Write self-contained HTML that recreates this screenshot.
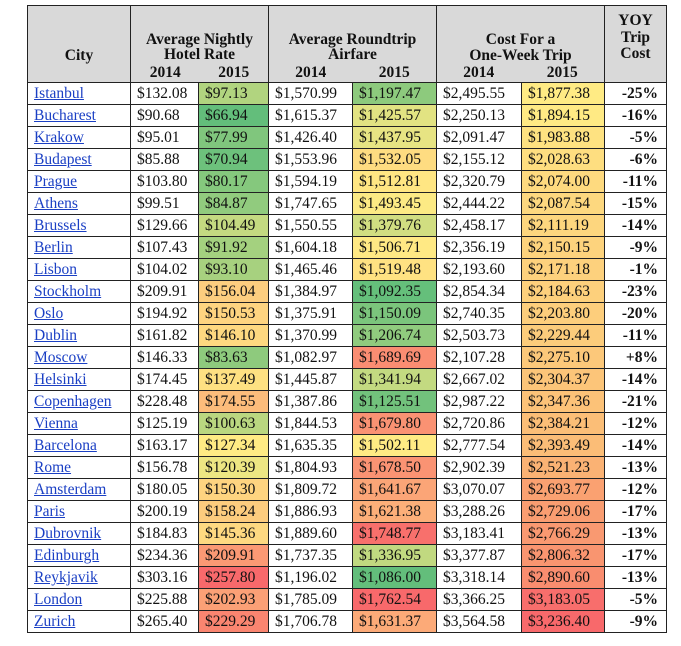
<!DOCTYPE html>
<html><head><meta charset="utf-8"><style>
body{margin:0;background:#fff;width:681px;height:646px;overflow:hidden;font-family:"Liberation Serif",serif;}
table{position:absolute;left:27px;top:5px;border-collapse:collapse;table-layout:fixed;}
td,th{border:1px solid #222;padding:0 0 0 6px;height:21px;font-size:15.5px;line-height:17px;white-space:nowrap;color:#111;}
thead th{background:#d9d9d9;height:76px;font-weight:bold;padding:0;text-align:center;line-height:15px;}
.hd{position:relative;height:76px;overflow:hidden}
.hd div{position:absolute;left:0;right:0;text-align:center}
.y{display:flex;justify-content:space-around;}
td.c a{color:#1a3fc4;text-decoration:underline;}
td.p{text-align:right;font-weight:bold;padding:0 8px 0 0}
</style></head><body>
<table>
<colgroup><col style="width:103px"><col style="width:68px"><col style="width:70px"><col style="width:84px"><col style="width:84px"><col style="width:85px"><col style="width:83px"><col style="width:62px"></colgroup>
<thead><tr>
<th><div class="hd"><div style="top:42px">City</div></div></th>
<th colspan="2"><div class="hd"><div style="top:26px">Average Nightly<br>Hotel Rate</div><div class="y" style="top:59px"><span>2014</span><span>2015</span></div></div></th>
<th colspan="2"><div class="hd"><div style="top:26px">Average Roundtrip<br>Airfare</div><div class="y" style="top:59px"><span>2014</span><span>2015</span></div></div></th>
<th colspan="2"><div class="hd"><div style="top:26px;line-height:16px">Cost For a<br>One-Week Trip</div><div class="y" style="top:59px"><span>2014</span><span>2015</span></div></div></th>
<th><div class="hd"><div style="top:7px;line-height:16.5px">YOY<br>Trip<br>Cost</div></div></th>
</tr></thead>
<tbody id="tb">
<tr><td class="c"><a>Istanbul</a></td><td>$132.08</td><td class="h">$97.13</td><td>$1,570.99</td><td class="a">$1,197.47</td><td>$2,495.55</td><td class="k">$1,877.38</td><td class="p">-25%</td></tr>
<tr><td class="c"><a>Bucharest</a></td><td>$90.68</td><td class="h">$66.94</td><td>$1,615.37</td><td class="a">$1,425.57</td><td>$2,250.13</td><td class="k">$1,894.15</td><td class="p">-16%</td></tr>
<tr><td class="c"><a>Krakow</a></td><td>$95.01</td><td class="h">$77.99</td><td>$1,426.40</td><td class="a">$1,437.95</td><td>$2,091.47</td><td class="k">$1,983.88</td><td class="p">-5%</td></tr>
<tr><td class="c"><a>Budapest</a></td><td>$85.88</td><td class="h">$70.94</td><td>$1,553.96</td><td class="a">$1,532.05</td><td>$2,155.12</td><td class="k">$2,028.63</td><td class="p">-6%</td></tr>
<tr><td class="c"><a>Prague</a></td><td>$103.80</td><td class="h">$80.17</td><td>$1,594.19</td><td class="a">$1,512.81</td><td>$2,320.79</td><td class="k">$2,074.00</td><td class="p">-11%</td></tr>
<tr><td class="c"><a>Athens</a></td><td>$99.51</td><td class="h">$84.87</td><td>$1,747.65</td><td class="a">$1,493.45</td><td>$2,444.22</td><td class="k">$2,087.54</td><td class="p">-15%</td></tr>
<tr><td class="c"><a>Brussels</a></td><td>$129.66</td><td class="h">$104.49</td><td>$1,550.55</td><td class="a">$1,379.76</td><td>$2,458.17</td><td class="k">$2,111.19</td><td class="p">-14%</td></tr>
<tr><td class="c"><a>Berlin</a></td><td>$107.43</td><td class="h">$91.92</td><td>$1,604.18</td><td class="a">$1,506.71</td><td>$2,356.19</td><td class="k">$2,150.15</td><td class="p">-9%</td></tr>
<tr><td class="c"><a>Lisbon</a></td><td>$104.02</td><td class="h">$93.10</td><td>$1,465.46</td><td class="a">$1,519.48</td><td>$2,193.60</td><td class="k">$2,171.18</td><td class="p">-1%</td></tr>
<tr><td class="c"><a>Stockholm</a></td><td>$209.91</td><td class="h">$156.04</td><td>$1,384.97</td><td class="a">$1,092.35</td><td>$2,854.34</td><td class="k">$2,184.63</td><td class="p">-23%</td></tr>
<tr><td class="c"><a>Oslo</a></td><td>$194.92</td><td class="h">$150.53</td><td>$1,375.91</td><td class="a">$1,150.09</td><td>$2,740.35</td><td class="k">$2,203.80</td><td class="p">-20%</td></tr>
<tr><td class="c"><a>Dublin</a></td><td>$161.82</td><td class="h">$146.10</td><td>$1,370.99</td><td class="a">$1,206.74</td><td>$2,503.73</td><td class="k">$2,229.44</td><td class="p">-11%</td></tr>
<tr><td class="c"><a>Moscow</a></td><td>$146.33</td><td class="h">$83.63</td><td>$1,082.97</td><td class="a">$1,689.69</td><td>$2,107.28</td><td class="k">$2,275.10</td><td class="p">+8%</td></tr>
<tr><td class="c"><a>Helsinki</a></td><td>$174.45</td><td class="h">$137.49</td><td>$1,445.87</td><td class="a">$1,341.94</td><td>$2,667.02</td><td class="k">$2,304.37</td><td class="p">-14%</td></tr>
<tr><td class="c"><a>Copenhagen</a></td><td>$228.48</td><td class="h">$174.55</td><td>$1,387.86</td><td class="a">$1,125.51</td><td>$2,987.22</td><td class="k">$2,347.36</td><td class="p">-21%</td></tr>
<tr><td class="c"><a>Vienna</a></td><td>$125.19</td><td class="h">$100.63</td><td>$1,844.53</td><td class="a">$1,679.80</td><td>$2,720.86</td><td class="k">$2,384.21</td><td class="p">-12%</td></tr>
<tr><td class="c"><a>Barcelona</a></td><td>$163.17</td><td class="h">$127.34</td><td>$1,635.35</td><td class="a">$1,502.11</td><td>$2,777.54</td><td class="k">$2,393.49</td><td class="p">-14%</td></tr>
<tr><td class="c"><a>Rome</a></td><td>$156.78</td><td class="h">$120.39</td><td>$1,804.93</td><td class="a">$1,678.50</td><td>$2,902.39</td><td class="k">$2,521.23</td><td class="p">-13%</td></tr>
<tr><td class="c"><a>Amsterdam</a></td><td>$180.05</td><td class="h">$150.30</td><td>$1,809.72</td><td class="a">$1,641.67</td><td>$3,070.07</td><td class="k">$2,693.77</td><td class="p">-12%</td></tr>
<tr><td class="c"><a>Paris</a></td><td>$200.19</td><td class="h">$158.24</td><td>$1,886.93</td><td class="a">$1,621.38</td><td>$3,288.26</td><td class="k">$2,729.06</td><td class="p">-17%</td></tr>
<tr><td class="c"><a>Dubrovnik</a></td><td>$184.83</td><td class="h">$145.36</td><td>$1,889.60</td><td class="a">$1,748.77</td><td>$3,183.41</td><td class="k">$2,766.29</td><td class="p">-13%</td></tr>
<tr><td class="c"><a>Edinburgh</a></td><td>$234.36</td><td class="h">$209.91</td><td>$1,737.35</td><td class="a">$1,336.95</td><td>$3,377.87</td><td class="k">$2,806.32</td><td class="p">-17%</td></tr>
<tr><td class="c"><a>Reykjavik</a></td><td>$303.16</td><td class="h">$257.80</td><td>$1,196.02</td><td class="a">$1,086.00</td><td>$3,318.14</td><td class="k">$2,890.60</td><td class="p">-13%</td></tr>
<tr><td class="c"><a>London</a></td><td>$225.88</td><td class="h">$202.93</td><td>$1,785.09</td><td class="a">$1,762.54</td><td>$3,366.25</td><td class="k">$3,183.05</td><td class="p">-5%</td></tr>
<tr><td class="c"><a>Zurich</a></td><td>$265.40</td><td class="h">$229.29</td><td>$1,706.78</td><td class="a">$1,631.37</td><td>$3,564.58</td><td class="k">$3,236.40</td><td class="p">-9%</td></tr>
</tbody></table>
<script>
function v(s){return parseFloat(s.replace(/[$,]/g,''));}
function mix(a,b,t){return a.map((x,i)=>Math.round(x+(b[i]-x)*t));}
var G=[99,190,123],Y=[255,235,132],O=[250,175,115],R=[248,105,107];
['h','a','k'].forEach(function(c){
 var els=[].slice.call(document.querySelectorAll('td.'+c));
 var vals=els.map(e=>v(e.textContent));
 var s=vals.slice().sort((a,b)=>a-b);
 var mn=s[0],mx=s[s.length-1],md=s[Math.floor(s.length/2)];
 els.forEach(function(e,i){var x=vals[i],col;
  if(c==='k'){var t=(x-mn)/(mx-mn);col=t<0.5?mix(Y,O,t*2):mix(O,R,(t-0.5)*2);}
  else if(x<=md)col=mix(G,Y,(x-mn)/(md-mn));else col=mix(Y,R,(x-md)/(mx-md));
  e.style.background='rgb('+col.join(',')+')';});
});
</script>
</body></html>
